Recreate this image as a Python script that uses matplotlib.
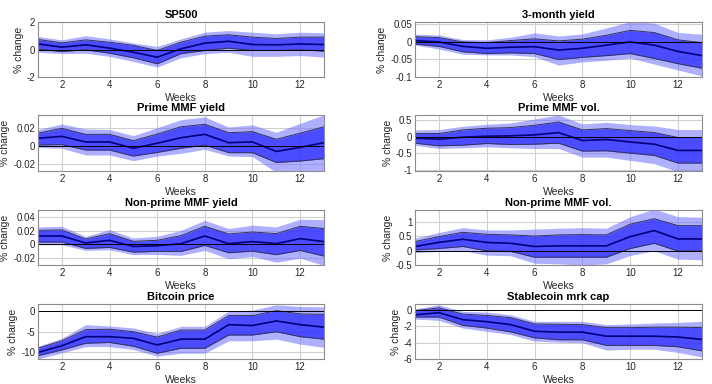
import numpy as np
import matplotlib
matplotlib.use('Agg')
import matplotlib.pyplot as plt

plt.rcParams['font.family'] = ['Liberation Sans', 'DejaVu Sans']

weeks = np.arange(1, 14)

titles = ['SP500', '3-month yield', 'Prime MMF yield', 'Prime MMF vol.',
          'Non-prime MMF yield', 'Non-prime MMF vol.', 'Bitcoin price', 'Stablecoin mrk cap']

# median response
median = [
    [0.41, 0.17, 0.34, 0.10, -0.20, -0.56, 0.05, 0.46, 0.60, 0.36, 0.34, 0.40, 0.36],
    [0.004, 0.0, -0.0125, -0.018, -0.015, -0.0135, -0.023, -0.018, -0.009, 0.0, -0.009, -0.027, -0.039],
    [0.0084, 0.0105, 0.0044, 0.0044, -0.0025, 0.003, 0.009, 0.0127, 0.0036, 0.0044, -0.006, -0.0015, 0.0036],
    [-0.05, -0.08, -0.02, 0.01, 0.02, 0.05, 0.12, -0.12, -0.09, -0.165, -0.23, -0.42, -0.42],
    [0.0122, 0.0122, 0.002, 0.0059, -0.003, -0.002, 0.001, 0.0122, 0.001, 0.004, 0.001, 0.0083, 0.004],
    [0.14, 0.28, 0.39, 0.28, 0.25, 0.14, 0.16, 0.16, 0.16, 0.48, 0.69, 0.40, 0.40],
    [-10.0, -8.4, -6.2, -6.2, -6.6, -8.2, -6.8, -6.8, -3.3, -3.5, -2.4, -3.3, -3.9],
    [-0.57, -0.32, -1.17, -1.42, -1.78, -2.6, -2.7, -2.7, -3.2, -3.2, -3.2, -3.3, -3.6],
]

# inner band (upper / lower)
inner_hi = [
    [0.73, 0.48, 0.70, 0.53, 0.30, -0.07, 0.53, 0.97, 1.07, 0.90, 0.80, 0.90, 0.90],
    [0.015, 0.0125, 0.0, -0.002, 0.004, 0.009, 0.003, 0.008, 0.019, 0.033, 0.027, 0.006, -0.002],
    [0.014, 0.0193, 0.0127, 0.0127, 0.0058, 0.013, 0.021, 0.0236, 0.0145, 0.0156, 0.0073, 0.014, 0.021],
    [0.09, 0.09, 0.20, 0.25, 0.27, 0.34, 0.44, 0.20, 0.24, 0.18, 0.12, -0.03, -0.03],
    [0.0205, 0.021, 0.0078, 0.0156, 0.0044, 0.0059, 0.0127, 0.0263, 0.0151, 0.018, 0.0156, 0.0263, 0.023],
    [0.31, 0.48, 0.63, 0.56, 0.54, 0.50, 0.54, 0.55, 0.54, 0.91, 1.10, 0.86, 0.86],
    [-9.0, -7.2, -4.5, -4.4, -5.0, -6.3, -4.6, -4.6, -1.1, -1.1, 0.1, -0.7, -0.8],
    [-0.08, 0.28, -0.49, -0.65, -0.93, -1.7, -1.74, -1.78, -2.15, -2.15, -2.1, -2.1, -2.15],
]
inner_lo = [
    [0.02, -0.15, -0.02, -0.27, -0.60, -1.04, -0.30, -0.07, 0.10, -0.07, -0.07, -0.02, -0.12],
    [-0.006, -0.0125, -0.028, -0.033, -0.031, -0.033, -0.05, -0.044, -0.039, -0.033, -0.047, -0.062, -0.075],
    [0.001, 0.0015, -0.0044, -0.0044, -0.011, -0.007, -0.0025, 0.001, -0.0073, -0.0073, -0.018, -0.0164, -0.0138],
    [-0.20, -0.28, -0.26, -0.21, -0.24, -0.23, -0.20, -0.44, -0.43, -0.50, -0.57, -0.80, -0.80],
    [0.0034, 0.0034, -0.0059, -0.0044, -0.0112, -0.0102, -0.0102, -0.0015, -0.0122, -0.0098, -0.015, -0.0088, -0.017],
    [0.02, 0.07, 0.14, -0.01, -0.03, -0.23, -0.23, -0.23, -0.23, 0.07, 0.25, -0.02, -0.02],
    [-10.8, -9.4, -7.8, -7.6, -8.5, -10.2, -9.0, -9.0, -5.8, -5.8, -5.0, -6.2, -6.8],
    [-0.85, -0.85, -1.86, -2.2, -2.67, -3.4, -3.64, -3.64, -4.33, -4.33, -4.33, -4.5, -5.0],
]

# outer band (upper / lower)
outer_hi = [
    [0.95, 0.70, 1.00, 0.77, 0.48, 0.22, 0.77, 1.26, 1.38, 1.26, 1.14, 1.26, 1.21],
    [0.022, 0.020, 0.007, 0.006, 0.0135, 0.026, 0.017, 0.023, 0.040, 0.058, 0.054, 0.027, 0.022],
    [0.0178, 0.024, 0.0185, 0.018, 0.0113, 0.020, 0.0287, 0.0316, 0.0207, 0.023, 0.0149, 0.0247, 0.034],
    [0.20, 0.21, 0.31, 0.37, 0.41, 0.53, 0.65, 0.38, 0.43, 0.36, 0.32, 0.21, 0.21],
    [0.0254, 0.0263, 0.0117, 0.0215, 0.0093, 0.0117, 0.0205, 0.035, 0.023, 0.028, 0.0254, 0.0366, 0.036],
    [0.43, 0.62, 0.79, 0.71, 0.71, 0.74, 0.77, 0.79, 0.77, 1.17, 1.43, 1.17, 1.15],
    [-8.5, -6.6, -3.3, -3.6, -4.1, -5.4, -3.7, -3.7, 0.0, 0.2, 1.5, 1.1, 1.0],
    [0.16, 0.65, -0.16, -0.24, -0.57, -1.38, -1.38, -1.38, -1.78, -1.7, -1.58, -1.5, -1.38],
]
outer_lo = [
    [-0.20, -0.30, -0.27, -0.50, -0.87, -1.28, -0.60, -0.30, -0.20, -0.50, -0.50, -0.44, -0.55],
    [-0.009, -0.020, -0.035, -0.037, -0.037, -0.042, -0.066, -0.057, -0.052, -0.046, -0.063, -0.080, -0.097],
    [-0.0018, -0.0025, -0.0098, -0.0098, -0.016, -0.011, -0.008, -0.0036, -0.011, -0.0116, -0.029, -0.030, -0.030],
    [-0.26, -0.36, -0.34, -0.31, -0.34, -0.36, -0.36, -0.62, -0.62, -0.72, -0.82, -1.06, -1.06],
    [-0.0005, -0.0005, -0.0088, -0.0078, -0.015, -0.0146, -0.016, -0.0088, -0.021, -0.0176, -0.026, -0.020, -0.0307],
    [-0.07, -0.03, -0.01, -0.16, -0.18, -0.44, -0.46, -0.50, -0.46, -0.17, -0.01, -0.30, -0.32],
    [-11.6, -10.1, -8.6, -8.6, -9.3, -10.9, -10.2, -10.2, -7.2, -7.2, -6.8, -8.0, -8.8],
    [-1.1, -1.26, -2.2, -2.6, -3.0, -3.8, -3.93, -4.0, -4.9, -4.8, -4.8, -5.2, -5.75],
]

ylims = [(-2, 2), (-0.1, 0.057), (-0.0273, 0.0338), (-1.04, 0.65),
         (-0.030, 0.050), (-0.5, 1.4), (-11.6, 1.7), (-6, 0.75)]
yticks = [[-2, 0, 2], [-0.1, -0.05, 0, 0.05], [-0.02, 0, 0.02], [-1, -0.5, 0, 0.5],
          [-0.02, 0, 0.02, 0.04], [-0.5, 0, 0.5, 1], [-10, -5, 0], [-6, -4, -2, 0]]
yticklabels = [['-2', '0', '2'], ['-0.1', '-0.05', '0', '0.05'], ['-0.02', '0', '0.02'],
               ['-1', '-0.5', '0', '0.5'], ['-0.02', '0', '0.02', '0.04'],
               ['-0.5', '0', '0.5', '1'], ['-10', '-5', '0'], ['-6', '-4', '-2', '0']]

fig = plt.figure(figsize=(7.12, 3.84), dpi=100)
W, H = 712, 384
col_x = [(38, 324), (415, 702)]
row_y = [(22, 77), (115, 171), (210, 265), (304, 359)]

for i in range(8):
    r, c = i // 2, i % 2
    x0, x1 = col_x[c]
    y0, y1 = row_y[r]
    ax = fig.add_axes([x0 / W, 1 - y1 / H, (x1 - x0) / W, (y1 - y0) / H])
    ax.grid(True, color='#d0d0d0', linewidth=0.8)
    ax.set_axisbelow(True)
    ax.fill_between(weeks, outer_lo[i], outer_hi[i], color='#6e6eff', alpha=0.55, linewidth=0)
    ax.fill_between(weeks, inner_lo[i], inner_hi[i], color='#2a2aff', alpha=0.75, linewidth=0)
    ax.plot(weeks, inner_hi[i], color='#333355', linewidth=0.7)
    ax.plot(weeks, inner_lo[i], color='#333355', linewidth=0.7)
    ax.plot(weeks, median[i], color='#00007a', linewidth=1.2)
    ax.axhline(0, color='black', linewidth=0.7)
    ax.set_xlim(1, 13)
    ax.set_ylim(*ylims[i])
    ax.set_xticks([2, 4, 6, 8, 10, 12])
    ax.set_yticks(yticks[i])
    ax.set_yticklabels(yticklabels[i])
    ax.tick_params(labelsize=7, colors='#262626', length=0, pad=2)
    for s in ax.spines.values():
        s.set_color('#8c8c8c')
        s.set_linewidth(0.8)
    ax.set_title(titles[i], fontsize=8, fontweight='bold', pad=3)
    ax.set_xlabel('Weeks', fontsize=7.5, color='#262626', labelpad=2)
    ax.set_ylabel('% change', fontsize=7.5, color='#262626', labelpad=2)

fig.savefig('out.png', dpi=100)
